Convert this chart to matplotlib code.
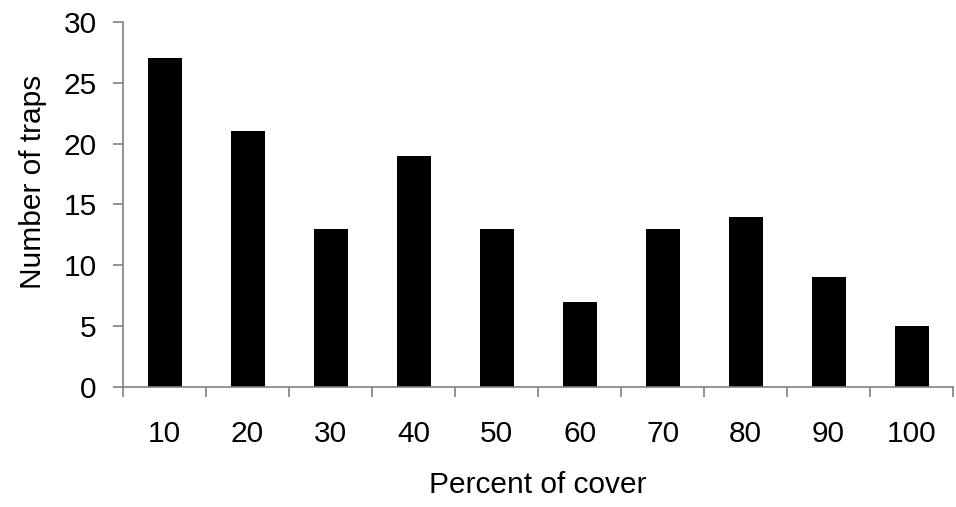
import matplotlib.pyplot as plt

plt.rcParams['font.family'] = ['Liberation Sans', 'DejaVu Sans']

# percent cover classes and trap counts
cover = ['10', '20', '30', '40', '50', '60', '70', '80', '90', '100']
traps = [27, 21, 13, 19, 13, 7, 13, 14, 9, 5]

fig = plt.figure(figsize=(9.56, 5.07), dpi=100)
ax = fig.add_axes([0.1287, 0.2367, 0.8683, 0.72])

pos = list(range(len(cover)))
ax.bar(pos, traps, width=0.41, color='black')

ax.set_xlim(-0.5, len(cover) - 0.5)
ax.set_ylim(0, 30)
ax.set_yticks([0, 5, 10, 15, 20, 25, 30])

# labels centred under bars, ticks at category boundaries
ax.set_xticks(pos)
ax.set_xticklabels(cover)
ax.set_xticks([p - 0.5 for p in range(len(cover) + 1)], minor=True)
ax.tick_params(axis='x', which='major', length=0, pad=24, labelsize=21.5)
ax.tick_params(axis='x', which='minor', length=7, width=1.2, color='#808080', direction='out')
ax.tick_params(axis='y', length=7, width=1.2, color='#808080', direction='out', pad=12, labelsize=21.5)

for s in ['top', 'right']:
    ax.spines[s].set_visible(False)
for s in ['left', 'bottom']:
    ax.spines[s].set_color('#808080')
    ax.spines[s].set_linewidth(1.2)

ax.set_xlabel('Percent of cover', fontsize=21.5, labelpad=16)
ax.set_ylabel('Number of traps', fontsize=21.5, labelpad=12, y=0.563)

fig.savefig('out.png', dpi=100)
